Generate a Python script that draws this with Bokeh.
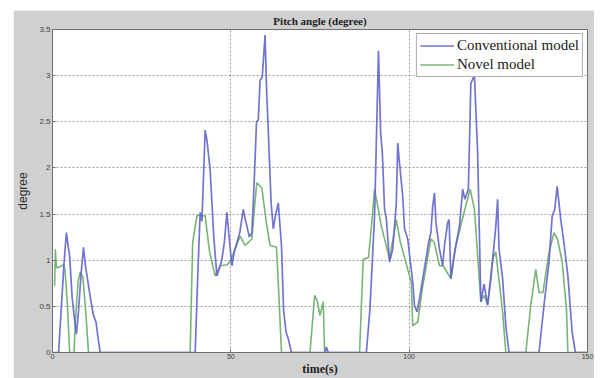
from bokeh.plotting import figure
from bokeh.embed import file_html
from bokeh.resources import INLINE
from bokeh.models import FixedTicker, Title, Legend, LegendItem, Range1d

# ---- data ----
conv_t = [0, 1.7, 2.5, 3.2, 3.9, 4.4, 4.8, 5.5, 6.2, 6.7, 7.3, 8.0, 8.7, 9.2, 10.0, 10.8, 11.5, 12.2, 12.9, 13.4,
          40.0, 40.7, 41.4, 41.9, 42.8, 43.3, 44.2, 45.2, 46.1, 46.7, 47.5, 48.2, 48.9, 49.4, 50.3, 51.0, 51.7, 52.5,
          53.5, 54.0, 54.5, 55.2, 55.9, 56.5, 57.2, 57.7, 58.2, 58.8, 59.6, 60.0, 60.6, 61.3, 61.9, 62.6, 63.3, 64.2,
          64.8, 65.5, 66.1, 67.0, 76.4, 76.8, 77.3, 88.0, 89.0, 90.3, 91.4, 92.0, 92.5, 93.1, 93.6, 94.5, 95.4, 96.4,
          96.8, 97.2, 98.2, 98.7, 99.6, 101.0, 101.5, 102.2, 102.9, 103.8, 104.7, 105.5, 106.1, 106.6, 107.1, 107.5,
          108.5, 109.4, 109.9, 110.8, 111.2, 111.7, 112.7, 114.1, 115.0, 115.6, 116.6, 117.3, 118.3, 119.2, 120.1,
          121.0, 122.0, 122.9, 124.3, 124.8, 125.2, 126.2, 127.1, 128.0, 136.4, 137.8, 139.2, 140.1, 140.8, 141.5,
          142.5, 143.4, 144.5, 145.7, 146.6, 150]
conv_y = [0, 0, 0.5, 0.95, 1.30, 1.15, 1.05, 0.6, 0.35, 0.2, 0.45, 0.85, 1.14, 0.95, 0.75, 0.55, 0.4, 0.33, 0.12, 0,
          0, 0.8, 1.52, 1.42, 2.41, 2.3, 1.98, 1.26, 0.83, 0.9, 1.01, 1.2, 1.52, 1.3, 0.94, 1.1, 1.19, 1.3,
          1.55, 1.45, 1.37, 1.25, 1.30, 1.8, 2.5, 2.52, 2.95, 2.98, 3.44, 2.88, 2.3, 1.62, 1.34, 1.5, 1.62, 1.16,
          0.45, 0.22, 0.15, 0, 0, 0.06, 0, 0, 0.47, 1.48, 3.27, 2.38, 2.15, 1.55, 1.45, 0.98, 1.12, 1.62,
          2.27, 2.09, 1.69, 1.34, 1.23, 0.76, 0.51, 0.44, 0.58, 0.8, 1.01, 1.2, 1.30, 1.59, 1.73, 1.41,
          1.12, 0.94, 1.16, 1.41, 1.44, 0.80, 1.08, 1.37, 1.77, 1.66, 1.77, 2.92, 3.0, 2.16, 0.55,
          0.74, 0.51, 0.80, 1.37, 1.66, 1.12, 0.80, 0.29, 0, 0, 0.51, 0.98, 1.48, 1.55, 1.80,
          1.44, 1.19, 0.83, 0.22, 0, 0]

novel_t = [0.6, 0.8, 1.1, 2.2, 3.0, 3.5, 4.2, 4.8, 6.0, 6.6, 7.2, 7.8, 8.5, 9.2, 10.1,
           38.6, 39.3, 40.5, 41.2, 42.8, 44.0, 45.6, 47.0, 49.0, 50.0, 51.5, 52.6, 54.0, 55.9, 56.7, 57.3, 58.7,
           60.0, 61.0, 62.8, 63.5, 64.2, 72.2, 73.5, 74.3, 75.0, 75.9, 76.3, 86.1, 87.1, 88.6, 89.5, 90.3, 92.2,
           94.5, 96.4, 97.5, 100.6, 101.0, 102.4, 103.8, 106.1, 107.0, 108.5, 109.5, 111.7, 113.1, 115.4, 117.1,
           118.3, 120.1, 121.0, 122.0, 123.4, 124.3, 126.2, 127.1, 132.7, 134.1, 135.5, 136.4, 137.5, 139.2,
           140.6, 141.6, 142.9, 144.1, 144.5, 150]
novel_y = [0.72, 1.12, 0.92, 0.93, 0.95, 0.9, 0.5, 0, 0, 0.45, 0.78, 0.87, 0.82, 0.5, 0,
           0, 1.19, 1.48, 1.49, 1.48, 1.1, 0.83, 0.94, 0.95, 1.0, 1.15, 1.26, 1.16, 1.23, 1.6, 1.84, 1.78,
           1.4, 1.16, 1.14, 0.6, 0, 0, 0.62, 0.55, 0.40, 0.55, 0, 0, 1.01, 1.03, 1.4, 1.77, 1.37,
           1.01, 1.44, 1.2, 0.76, 0.29, 0.33, 0.72, 1.23, 1.2, 0.94, 0.94, 0.80, 1.16, 1.52, 1.77,
           1.55, 0.55, 0.62, 0.52, 1.01, 1.09, 0.44, 0, 0, 0.51, 0.90, 0.65, 0.65, 1.08,
           1.30, 1.23, 0.98, 0.47, 0, 0]

x_ticks = [0, 50, 100, 150]
y_ticks = [0, 0.5, 1, 1.5, 2, 2.5, 3, 3.5]
y_tick_labels = {0: "0", 0.5: "0.5", 1: "1", 1.5: "1.5", 2: "2", 2.5: "2.5", 3: "3", 3.5: "3.5"}

series_names = ["Conventional model", "Novel model"]
series_colors = ["#6464cc", "#78b478"]

GRAY = "#d0d0d0"

p = figure(width=581, height=368, output_backend="svg", toolbar_location=None,
           x_range=Range1d(0, 150), y_range=Range1d(0, 3.5),
           min_border_left=37, min_border_right=7, min_border_top=19, min_border_bottom=24,
           background_fill_color="white", border_fill_color=GRAY,
           outline_line_color="#707070", outline_line_width=1,
           margin=(10, 0, 0, 13))

t = Title(text="Pitch angle (degree)", align="center", text_font="Liberation Serif",
          text_font_size="11px", text_font_style="bold", text_color="#202020", standoff=5,
          offset=0)
p.add_layout(t, "above")

ln_novel = p.line(novel_t, novel_y, line_color=series_colors[1], line_width=1.6)
ln_conv = p.line(conv_t, conv_y, line_color=series_colors[0], line_width=1.7, line_alpha=0.9)

legend = Legend(items=[LegendItem(label=series_names[0], renderers=[ln_conv]),
                       LegendItem(label=series_names[1], renderers=[ln_novel])],
                location="top_right", label_text_font="Liberation Serif", label_text_font_size="15px",
                label_text_color="#202020", glyph_width=34, glyph_height=15, label_height=15,
                spacing=2, padding=3, margin=4, border_line_color="#606060", border_line_width=1,
                background_fill_color="white", label_standoff=3)
p.add_layout(legend)

p.xaxis.ticker = FixedTicker(ticks=x_ticks)
p.yaxis.ticker = FixedTicker(ticks=y_ticks)
p.yaxis.major_label_overrides = y_tick_labels

for ax in (p.xaxis, p.yaxis):
    ax.major_tick_in = 3
    ax.major_tick_out = 0
    ax.minor_tick_in = 0
    ax.minor_tick_out = 0
    ax.axis_line_color = "#707070"
    ax.major_tick_line_color = "#707070"
    ax.major_label_text_font = "Liberation Sans"
    ax.major_label_text_font_size = "8px"
    ax.major_label_text_color = "#404040"
    ax.major_label_standoff = 2

p.xaxis.major_label_standoff = 1
p.xaxis.major_label_text_font_size = "7px"
p.xaxis.axis_label = "time(s)"
p.xaxis.axis_label_text_font = "Liberation Serif"
p.xaxis.axis_label_text_font_style = "bold"
p.xaxis.axis_label_text_font_size = "12px"
p.xaxis.axis_label_text_color = "#202020"
p.xaxis.axis_label_standoff = 0

p.yaxis.axis_label = "degree"
p.yaxis.axis_label_text_font = "Liberation Sans"
p.yaxis.axis_label_text_font_style = "normal"
p.yaxis.axis_label_text_font_size = "12px"
p.yaxis.axis_label_text_color = "#303030"
p.yaxis.axis_label_standoff = 6

p.grid.grid_line_color = "#909090"
p.grid.grid_line_dash = "2 2"
p.grid.grid_line_width = 1
p.grid.grid_line_alpha = 0.9

open("out.html", "w").write(file_html(p, INLINE))
